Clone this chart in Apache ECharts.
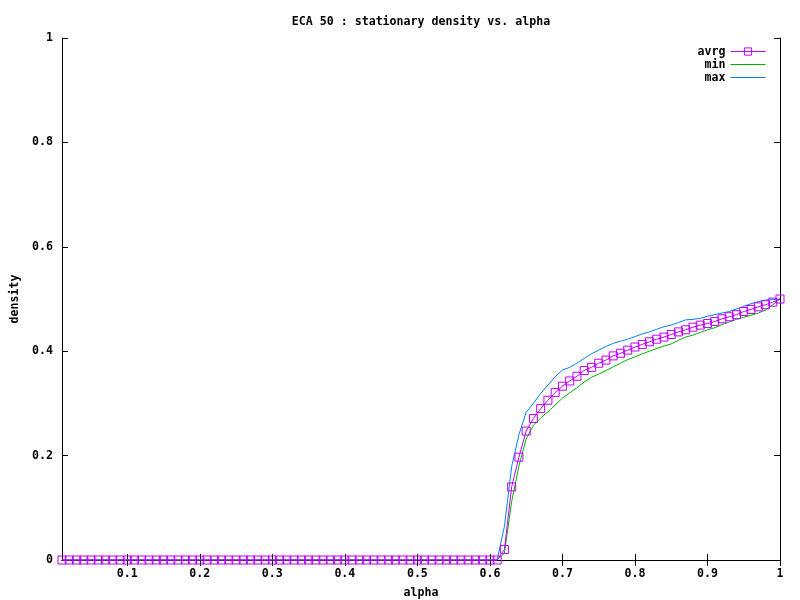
<!DOCTYPE html>
<html>
<head>
<meta charset="utf-8">
<script src="https://cdn.jsdelivr.net/npm/echarts@6/dist/echarts.min.js"></script>
<style>
  html, body { margin: 0; padding: 0; background: #fff; }
  #chart { width: 800px; height: 600px; }
</style>
</head>
<body>
<div id="chart"></div>
<script>
// alpha values (x)
const alpha = [
  0.01, 0.02, 0.03, 0.04, 0.05, 0.06, 0.07, 0.08, 0.09, 0.10,
  0.11, 0.12, 0.13, 0.14, 0.15, 0.16, 0.17, 0.18, 0.19, 0.20,
  0.21, 0.22, 0.23, 0.24, 0.25, 0.26, 0.27, 0.28, 0.29, 0.30,
  0.31, 0.32, 0.33, 0.34, 0.35, 0.36, 0.37, 0.38, 0.39, 0.40,
  0.41, 0.42, 0.43, 0.44, 0.45, 0.46, 0.47, 0.48, 0.49, 0.50,
  0.51, 0.52, 0.53, 0.54, 0.55, 0.56, 0.57, 0.58, 0.59, 0.60,
  0.61, 0.62, 0.63, 0.64, 0.65, 0.66, 0.67, 0.68, 0.69, 0.70,
  0.71, 0.72, 0.73, 0.74, 0.75, 0.76, 0.77, 0.78, 0.79, 0.80,
  0.81, 0.82, 0.83, 0.84, 0.85, 0.86, 0.87, 0.88, 0.89, 0.90,
  0.91, 0.92, 0.93, 0.94, 0.95, 0.96, 0.97, 0.98, 0.99, 1.00
];

const avrg = [
  0, 0, 0, 0, 0, 0, 0, 0, 0, 0,
  0, 0, 0, 0, 0, 0, 0, 0, 0, 0,
  0, 0, 0, 0, 0, 0, 0, 0, 0, 0,
  0, 0, 0, 0, 0, 0, 0, 0, 0, 0,
  0, 0, 0, 0, 0, 0, 0, 0, 0, 0,
  0, 0, 0, 0, 0, 0, 0, 0, 0, 0,
  0, 0.02, 0.14, 0.197, 0.247, 0.271, 0.29, 0.306, 0.321, 0.333,
  0.343, 0.352, 0.363, 0.369, 0.377, 0.383, 0.391, 0.396, 0.402, 0.408,
  0.413, 0.418, 0.423, 0.427, 0.432, 0.437, 0.441, 0.446, 0.45, 0.453,
  0.457, 0.462, 0.466, 0.47, 0.476, 0.48, 0.485, 0.489, 0.494, 0.5
];

const minv = [
  0, 0, 0, 0, 0, 0, 0, 0, 0, 0,
  0, 0, 0, 0, 0, 0, 0, 0, 0, 0,
  0, 0, 0, 0, 0, 0, 0, 0, 0, 0,
  0, 0, 0, 0, 0, 0, 0, 0, 0, 0,
  0, 0, 0, 0, 0, 0, 0, 0, 0, 0,
  0, 0, 0, 0, 0, 0, 0, 0, 0, 0,
  0, 0.013, 0.112, 0.18, 0.232, 0.258, 0.272, 0.284, 0.297, 0.31,
  0.32, 0.33, 0.341, 0.35, 0.356, 0.363, 0.37, 0.377, 0.384, 0.389,
  0.395, 0.4, 0.405, 0.41, 0.414, 0.421, 0.427, 0.431, 0.436, 0.441,
  0.445, 0.451, 0.456, 0.461, 0.465, 0.469, 0.473, 0.479, 0.489, 0.5
];

const maxv = [
  0, 0, 0, 0, 0, 0, 0, 0, 0, 0,
  0, 0, 0, 0, 0, 0, 0, 0, 0, 0,
  0, 0, 0, 0, 0, 0, 0, 0, 0, 0,
  0, 0, 0, 0, 0, 0, 0, 0, 0, 0,
  0, 0, 0, 0, 0, 0, 0, 0, 0, 0,
  0, 0, 0, 0, 0, 0, 0, 0, 0, 0,
  0, 0.064, 0.179, 0.24, 0.283, 0.30, 0.319, 0.335, 0.351, 0.364,
  0.369, 0.377, 0.386, 0.395, 0.402, 0.409, 0.415, 0.419, 0.423, 0.428,
  0.433, 0.437, 0.442, 0.447, 0.45, 0.455, 0.46, 0.461, 0.463, 0.467,
  0.47, 0.473, 0.476, 0.481, 0.486, 0.491, 0.495, 0.498, 0.499, 0.5
];

const xTicks = [0.1, 0.2, 0.3, 0.4, 0.5, 0.6, 0.7, 0.8, 0.9, 1];

const font = 'DejaVu Sans Mono';
const textStyle = { fontFamily: font, fontSize: 11.6, fontWeight: 'bold', color: '#000' };

function pairs(ys) {
  return alpha.map((a, i) => [a, ys[i]]);
}

const chart = echarts.init(document.getElementById('chart'));

const lineAxis = { lineStyle: { color: '#000', width: 1 } };
const tickIn = { inside: true, length: 6, lineStyle: { color: '#000' } };

chart.setOption({
  animation: false,
  backgroundColor: '#fff',
  title: {
    text: 'ECA 50 : stationary density vs. alpha',
    left: 416,
    top: 11,
    textAlign: 'center',
    textStyle: textStyle
  },
  legend: {
    orient: 'vertical',
    right: 34,
    top: 45,
    align: 'right',
    itemWidth: 35,
    itemHeight: 9,
    itemGap: 0,
    padding: 0,
    textStyle: Object.assign({ lineHeight: 13 }, textStyle),
    lineStyle: { width: 1 },
    itemStyle: { borderWidth: 1 },
    data: [
      'avrg',
      { name: 'min', itemStyle: { opacity: 0 } },
      { name: 'max', itemStyle: { opacity: 0 } }
    ]
  },
  grid: { left: 62, right: 20, top: 38, bottom: 40, outerBoundsMode: 'none' },
  xAxis: [
    {
      type: 'value',
      min: 0.01,
      max: 1,
      name: 'alpha',
      nameLocation: 'middle',
      nameGap: 27,
      nameTextStyle: textStyle,
      axisLine: lineAxis,
      axisTick: Object.assign({ customValues: xTicks }, tickIn),
      axisLabel: Object.assign({ customValues: xTicks, margin: 8 }, textStyle),
      splitLine: { show: false }
    },
    {
      type: 'value',
      position: 'top',
      min: 0.01,
      max: 1,
      axisLine: lineAxis,
      axisTick: Object.assign({ customValues: xTicks }, tickIn),
      axisLabel: { show: false },
      splitLine: { show: false }
    }
  ],
  yAxis: [
    {
      type: 'value',
      min: 0,
      max: 1,
      interval: 0.2,
      name: 'density',
      nameLocation: 'middle',
      nameGap: 41,
      nameTextStyle: textStyle,
      axisLine: Object.assign({ show: true }, lineAxis),
      axisTick: Object.assign({ show: true }, tickIn),
      axisLabel: Object.assign({ margin: 9 }, textStyle),
      splitLine: { show: false }
    },
    {
      type: 'value',
      position: 'right',
      min: 0,
      max: 1,
      interval: 0.2,
      axisLine: Object.assign({ show: true }, lineAxis),
      axisTick: Object.assign({ show: true }, tickIn),
      axisLabel: { show: false },
      splitLine: { show: false }
    }
  ],
  series: [
    {
      name: 'avrg',
      type: 'line',
      data: pairs(avrg),
      symbol: 'rect',
      symbolSize: 8,
      clip: false,
      lineStyle: { color: '#c000ff', width: 1 },
      itemStyle: { color: 'rgba(0,0,0,0)', borderColor: '#c000ff', borderWidth: 1 },
      z: 4
    },
    {
      name: 'min',
      type: 'line',
      data: pairs(minv),
      showSymbol: false,
      symbol: 'none',
      lineStyle: { color: '#00b000', width: 1 },
      itemStyle: { color: '#00b000' },
      z: 3
    },
    {
      name: 'max',
      type: 'line',
      data: pairs(maxv),
      showSymbol: false,
      symbol: 'none',
      lineStyle: { color: '#0080ff', width: 1 },
      itemStyle: { color: '#0080ff' },
      z: 3
    }
  ]
});
</script>
</body>
</html>
